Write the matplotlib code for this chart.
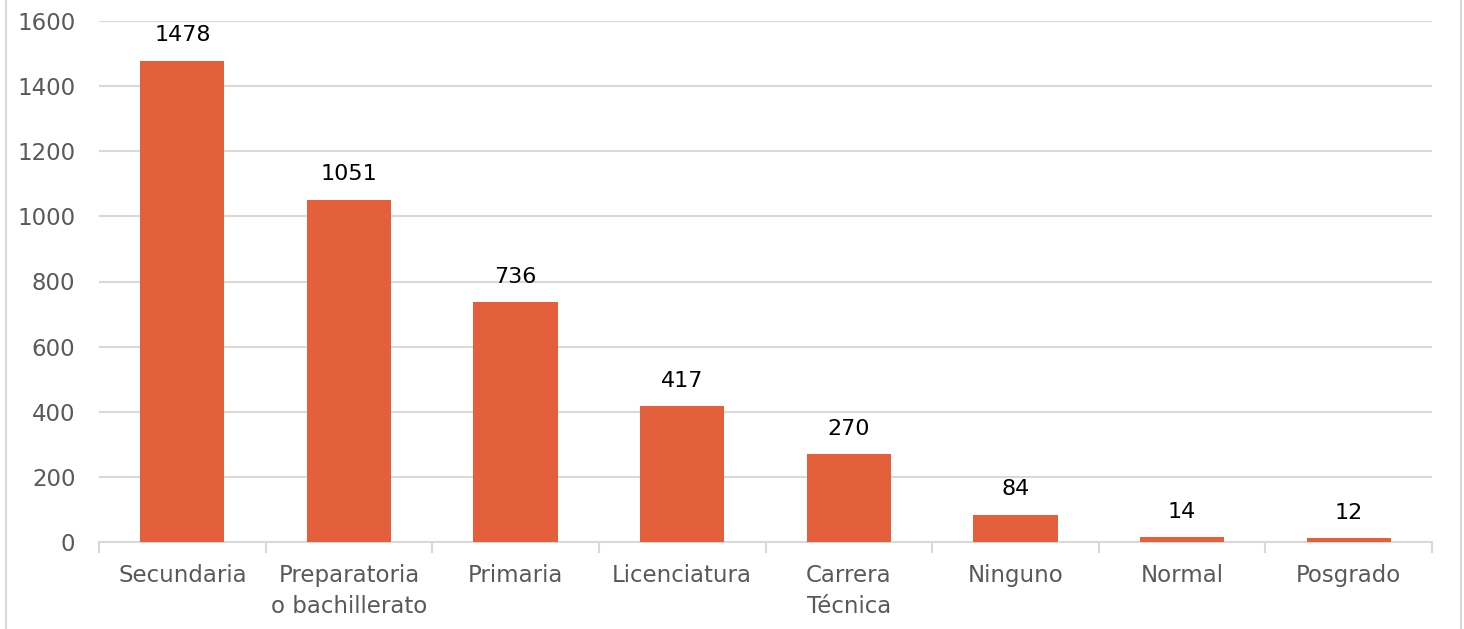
import matplotlib
matplotlib.use("Agg")
import matplotlib.pyplot as plt
from matplotlib.lines import Line2D

categories = ["Secundaria", "Preparatoria\no bachillerato", "Primaria", "Licenciatura",
              "Carrera\nTécnica", "Ninguno", "Normal", "Posgrado"]
values = [1478, 1051, 736, 417, 270, 84, 14, 12]
yticks = [0, 200, 400, 600, 800, 1000, 1200, 1400, 1600]

plt.rcParams['font.family'] = ['DejaVu Sans']

fig = plt.figure(figsize=(14.64, 6.29), dpi=100)
ax = fig.add_axes([99 / 1464, 1 - 542 / 629, (1432 - 99) / 1464, (542 - 21) / 629])

x = range(len(categories))
bars = ax.bar(x, values, width=0.505, color="#E45F3C", zorder=3)
for b, v in zip(bars, values):
    ax.annotate(str(v), (b.get_x() + b.get_width() / 2, v), xytext=(0, 11),
                textcoords="offset points", ha="center", va="bottom",
                fontsize=16, color="black")

ax.set_xlim(-0.5, len(categories) - 0.5)
ax.set_ylim(0, 1600)
ax.set_yticks(yticks)
ax.yaxis.grid(True, color="#D9D9D9", linewidth=1.5, zorder=0)
ax.tick_params(axis="y", length=0, labelsize=16.5, labelcolor="#595959", pad=17)

ax.set_xticks(list(x))
ax.set_xticklabels(categories, fontsize=16.5, color="#595959", linespacing=1.45)
ax.set_xticks([i + 0.5 for i in range(-1, len(categories))], minor=True)
ax.tick_params(axis="x", which="major", length=0, pad=16)
ax.tick_params(axis="x", which="minor", length=8, color="#D9D9D9", width=1.5)

for s in ["left", "right", "top"]:
    ax.spines[s].set_visible(False)
ax.spines["bottom"].set_color("#D9D9D9")
ax.spines["bottom"].set_linewidth(1.5)

# outer frame
fig.add_artist(Line2D([6 / 1464, 6 / 1464], [0, 1], color="#D9D9D9", linewidth=1.5))
fig.add_artist(Line2D([1461 / 1464, 1461 / 1464], [0, 1], color="#D9D9D9", linewidth=1.5))

fig.savefig("out.png", dpi=100)
